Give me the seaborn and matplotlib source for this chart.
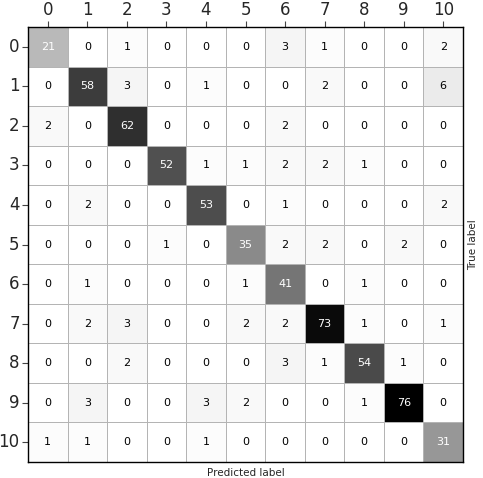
import numpy as np
import pandas as pd
import matplotlib
matplotlib.use("Agg")
import matplotlib.pyplot as plt
import seaborn as sns

labels = [str(i) for i in range(11)]

row_0 = [21, 0, 1, 0, 0, 0, 3, 1, 0, 0, 2]
row_1 = [0, 58, 3, 0, 1, 0, 0, 2, 0, 0, 6]
row_2 = [2, 0, 62, 0, 0, 0, 2, 0, 0, 0, 0]
row_3 = [0, 0, 0, 52, 1, 1, 2, 2, 1, 0, 0]
row_4 = [0, 2, 0, 0, 53, 0, 1, 0, 0, 0, 2]
row_5 = [0, 0, 0, 1, 0, 35, 2, 2, 0, 2, 0]
row_6 = [0, 1, 0, 0, 0, 1, 41, 0, 1, 0, 0]
row_7 = [0, 2, 3, 0, 0, 2, 2, 73, 1, 0, 1]
row_8 = [0, 0, 2, 0, 0, 0, 3, 1, 54, 1, 0]
row_9 = [0, 3, 0, 0, 3, 2, 0, 0, 1, 76, 0]
row_10 = [1, 1, 0, 0, 1, 0, 0, 0, 0, 0, 31]

cm = pd.DataFrame([row_0, row_1, row_2, row_3, row_4, row_5, row_6,
                   row_7, row_8, row_9, row_10], index=labels, columns=labels)

sns.set_style("white")
fig = plt.figure(figsize=(4.83, 4.78), dpi=100)
ax = fig.add_axes([28 / 483, 16 / 478, 435 / 483, 435 / 478])

sns.heatmap(cm, ax=ax, cmap="gray_r", vmin=0, vmax=cm.values.max(),
            annot=True, fmt="d", annot_kws={"fontsize": 8},
            cbar=False, linewidths=0.6, linecolor="#b4b4b4", square=False)

# white text on the darker diagonal cells
for txt in ax.texts:
    txt.set_color("white" if int(txt.get_text()) > 10 else "black")

ax.xaxis.tick_top()
ax.set_xticklabels(labels, fontsize=12, rotation=0)
ax.set_yticklabels(labels, fontsize=12, rotation=0)
ax.tick_params(axis="both", which="major", length=4, width=0.8, color="#444444",
               pad=2, left=True, top=True, bottom=False)

ax.set_xlabel("Predicted label", fontsize=7.5)
ax.xaxis.set_label_position("bottom")
ax.set_ylabel("True label", fontsize=7.5)
ax.yaxis.set_label_position("right")

for spine in ax.spines.values():
    spine.set_visible(True)
    spine.set_color("black")
    spine.set_linewidth(1)

fig.savefig("out.png", dpi=100)
